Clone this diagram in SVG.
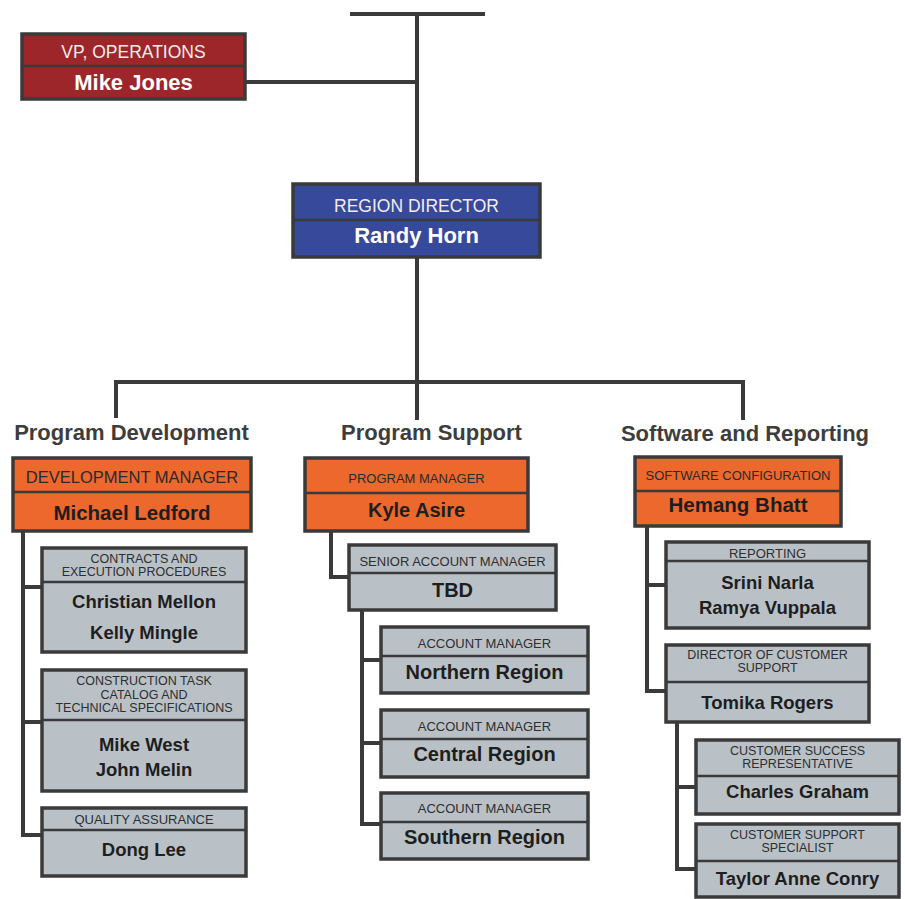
<svg xmlns="http://www.w3.org/2000/svg" width="905" height="899" viewBox="0 0 905 899">
<style>
.bg{fill:#ffffff}
.box{stroke:#3a3a3a;stroke-width:3.5}
.red{fill:#9c262a}
.blue{fill:#37499b}
.orange{fill:#ec682d}
.gray{fill:#b9c1c7}
.div{stroke:#3a3a3a;stroke-width:2.5}
.con{fill:none;stroke:#3a3a3a;stroke-width:4}
text{font-family:"Liberation Sans",Arial,Helvetica,sans-serif;text-anchor:middle}
.tw{fill:#f4ecec;font-size:17.5px}
.nw{fill:#ffffff;font-size:22px;font-weight:bold}
.hd{fill:#3d3d3d;font-size:22px;font-weight:bold}
.to{fill:#2a2a2a;font-size:13px}
.tol{fill:#2a2a2a;font-size:16.5px}
.no{fill:#1e1e1e;font-size:20px;font-weight:bold}
.tg{fill:#2e2e2e;font-size:13px}
.tm{fill:#2e2e2e;font-size:12.5px}
.ng{fill:#1e1e1e;font-size:18.5px;font-weight:bold}
</style>
<rect class="bg" x="0" y="0" width="905" height="899"/>
<g id="connectors">
<path class="con" d="M350 14 H485"/>
<path class="con" d="M417 14 V184"/>
<path class="con" d="M245 82 H417"/>
<path class="con" d="M417 257 V420"/>
<path class="con" d="M116 418 V382 H743 V420"/>
<path class="con" d="M23 531 V835 H42 M23 587 H42 M23 722 H42"/>
<path class="con" d="M331 531 V577 H349"/>
<path class="con" d="M362 610 V824 H381 M362 660 H381 M362 743 H381"/>
<path class="con" d="M647 526 V691 H666 M647 585 H666"/>
<path class="con" d="M677 722 V869 H696 M677 787 H696"/>
</g>
<g id="vp-operations">
<rect class="box red" x="22" y="34" width="223" height="65"/>
<line class="div" x1="22" y1="66" x2="245" y2="66"/>
<text class="tw" x="133.5" y="58">VP, OPERATIONS</text>
<text class="nw" x="133.5" y="90">Mike Jones</text>
</g>
<g id="region-director">
<rect class="box blue" x="293" y="184" width="247" height="73"/>
<line class="div" x1="293" y1="220" x2="540" y2="220"/>
<text class="tw" x="416.5" y="211.5">REGION DIRECTOR</text>
<text class="nw" x="416.5" y="243">Randy Horn</text>
</g>
<g id="headers">
<text class="hd" x="131.5" y="440">Program Development</text>
<text class="hd" x="431.5" y="440">Program Support</text>
<text class="hd" x="745" y="441">Software and Reporting</text>
</g>
<g id="development-manager">
<rect class="box orange" x="13" y="458" width="238" height="73"/>
<line class="div" x1="13" y1="492" x2="251" y2="492"/>
<text class="tol" x="132" y="483">DEVELOPMENT MANAGER</text>
<text class="no" x="132" y="520" style="font-size:20.5px">Michael Ledford</text>
</g>
<g id="contracts">
<rect class="box gray" x="42" y="548" width="204" height="104"/>
<line class="div" x1="42" y1="582" x2="246" y2="582"/>
<text class="tm" x="144" y="562.9">CONTRACTS AND</text>
<text class="tm" x="144" y="576.4">EXECUTION PROCEDURES</text>
<text class="ng" x="144" y="607.6">Christian Mellon</text>
<text class="ng" x="144" y="638.6">Kelly Mingle</text>
</g>
<g id="construction-task">
<rect class="box gray" x="42" y="670" width="204" height="121"/>
<line class="div" x1="42" y1="720" x2="246" y2="720"/>
<text class="tm" x="144" y="685.4">CONSTRUCTION TASK</text>
<text class="tm" x="144" y="698.9">CATALOG AND</text>
<text class="tm" x="144" y="712.4">TECHNICAL SPECIFICATIONS</text>
<text class="ng" x="144" y="750.6">Mike West</text>
<text class="ng" x="144" y="775.6">John Melin</text>
</g>
<g id="quality-assurance">
<rect class="box gray" x="42" y="808" width="204" height="68"/>
<line class="div" x1="42" y1="830" x2="246" y2="830"/>
<text class="tg" x="144" y="823.6">QUALITY ASSURANCE</text>
<text class="ng" x="144" y="855.6">Dong Lee</text>
</g>
<g id="program-manager">
<rect class="box orange" x="305" y="458" width="223" height="73"/>
<line class="div" x1="305" y1="493" x2="528" y2="493"/>
<text class="to" x="416.5" y="482.7">PROGRAM MANAGER</text>
<text class="no" x="416.5" y="517.2">Kyle Asire</text>
</g>
<g id="senior-account-manager">
<rect class="box gray" x="349" y="545" width="207" height="65"/>
<line class="div" x1="349" y1="573" x2="556" y2="573"/>
<text class="tg" x="452.5" y="565.7">SENIOR ACCOUNT MANAGER</text>
<text class="no" x="452.5" y="597.2">TBD</text>
</g>
<g id="am-northern">
<rect class="box gray" x="381" y="627" width="207" height="66"/>
<line class="div" x1="381" y1="656" x2="588" y2="656"/>
<text class="tg" x="484.5" y="647.7">ACCOUNT MANAGER</text>
<text class="no" x="484.5" y="679.2">Northern Region</text>
</g>
<g id="am-central">
<rect class="box gray" x="381" y="710" width="207" height="67"/>
<line class="div" x1="381" y1="739" x2="588" y2="739"/>
<text class="tg" x="484.5" y="730.7">ACCOUNT MANAGER</text>
<text class="no" x="484.5" y="761.2">Central Region</text>
</g>
<g id="am-southern">
<rect class="box gray" x="381" y="793" width="207" height="66"/>
<line class="div" x1="381" y1="822" x2="588" y2="822"/>
<text class="tg" x="484.5" y="812.7">ACCOUNT MANAGER</text>
<text class="no" x="484.5" y="844.2">Southern Region</text>
</g>
<g id="software-configuration">
<rect class="box orange" x="635" y="457" width="206" height="69"/>
<line class="div" x1="635" y1="491" x2="841" y2="491"/>
<text class="to" x="738" y="479.7">SOFTWARE CONFIGURATION</text>
<text class="no" x="738" y="512.4" style="font-size:20.5px">Hemang Bhatt</text>
</g>
<g id="reporting">
<rect class="box gray" x="666" y="542" width="203" height="86"/>
<line class="div" x1="666" y1="561" x2="869" y2="561"/>
<text class="tg" x="767.5" y="557.7">REPORTING</text>
<text class="ng" x="767.5" y="588.6">Srini Narla</text>
<text class="ng" x="767.5" y="613.6">Ramya Vuppala</text>
</g>
<g id="director-customer-support">
<rect class="box gray" x="666" y="645" width="203" height="77"/>
<line class="div" x1="666" y1="682" x2="869" y2="682"/>
<text class="tm" x="767.5" y="659.4">DIRECTOR OF CUSTOMER</text>
<text class="tm" x="767.5" y="672.4">SUPPORT</text>
<text class="ng" x="767.5" y="708.6">Tomika Rogers</text>
</g>
<g id="customer-success">
<rect class="box gray" x="696" y="740" width="203" height="74"/>
<line class="div" x1="696" y1="776" x2="899" y2="776"/>
<text class="tm" x="797.5" y="754.9">CUSTOMER SUCCESS</text>
<text class="tm" x="797.5" y="768.4">REPRESENTATIVE</text>
<text class="ng" x="797.5" y="797.6">Charles Graham</text>
</g>
<g id="customer-support-specialist">
<rect class="box gray" x="696" y="824" width="203" height="73"/>
<line class="div" x1="696" y1="861" x2="899" y2="861"/>
<text class="tm" x="797.5" y="838.9">CUSTOMER SUPPORT</text>
<text class="tm" x="797.5" y="852.4">SPECIALIST</text>
<text class="ng" x="797.5" y="884.6">Taylor Anne Conry</text>
</g>
</svg>
